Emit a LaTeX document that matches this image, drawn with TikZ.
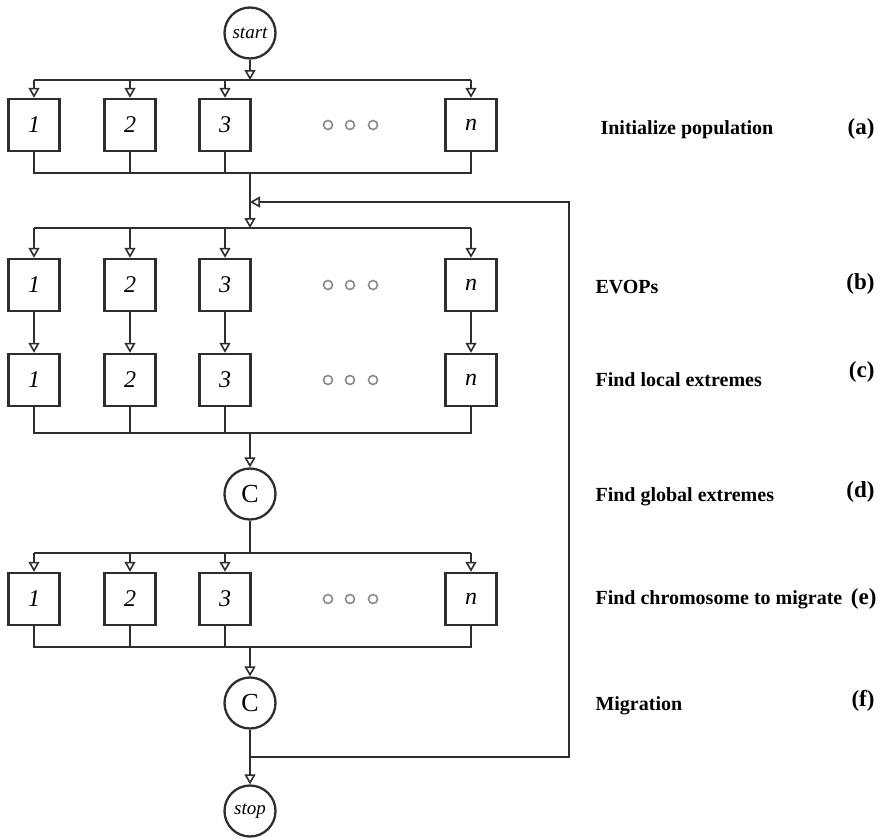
\documentclass[tikz,border=0pt]{standalone}
\usepackage{fontspec}
\setmainfont{Liberation Serif}
\usetikzlibrary{arrows.meta}
\definecolor{ink}{HTML}{2E2E2E}
\definecolor{dotgray}{HTML}{8A8A8A}
\begin{document}
\begin{tikzpicture}[x=1pt,y=-1pt,
  wire/.style={draw=ink, line width=2.3pt},
  arr/.style={wire, -{Triangle[open, length=10pt, width=11pt, line width=1.6pt]}},
  unit/.style={draw=ink, line width=2.4pt, minimum width=51pt, minimum height=52pt,
    inner sep=0pt, font=\fontsize{24}{24}\selectfont\itshape},
  term/.style={circle, draw=ink, line width=2.3pt, minimum size=51pt, inner sep=0pt,
    font=\fontsize{19}{19}\selectfont\itshape},
  comb/.style={circle, draw=ink, line width=2.3pt, minimum size=51pt, inner sep=0pt,
    font=\fontsize{26}{26}\selectfont},
  stage/.style={anchor=base west, font=\fontsize{20}{20}\selectfont\bfseries},
  tag/.style={anchor=base east, font=\fontsize{23}{23}\selectfont\bfseries},
  ell/.style={circle, draw=dotgray, line width=1.6pt, minimum size=9pt, inner sep=0pt}]
\useasboundingbox (0,0) rectangle (882,838);

% terminals and combiners
\node[term] (start) at (250,33) {start};
\node[comb] (comb1) at (250,494) {C};
\node[comb] (comb2) at (250,703) {C};
\node[term] (stop) at (250,811) {stop};

% parallel units of each stage
\foreach \r/\y in {a/125, b/285, c/380, e/599} {
  \foreach \k/\x in {1/34, 2/130, 3/225, n/471}
    \node[unit] (\r\k) at (\x,\y) {\k};
  \foreach \d/\x in {1/328, 2/350, 3/373}
    \node[ell] (\r dot\d) at (\x,\y) {};
}

% bus coordinates on the main trunk
\coordinate (topA) at (250,80);
\coordinate (botA) at (250,173);
\coordinate (loopIn) at (250,202);
\coordinate (topB) at (250,228);
\coordinate (botC) at (250,433);
\coordinate (topE) at (250,553);
\coordinate (botE) at (250,647);
\coordinate (join) at (250,757);
\coordinate (backR) at (569,757);
\coordinate (loopTop) at (569,202);

% stage (a): initialize population
\draw[arr] (start) -- (topA);
\draw[wire] (a1 |- topA) -- (an |- topA);
\foreach \k in {1,2,3,n} \draw[arr] (a\k |- topA) -- (a\k);
\draw[wire] (a1.south) |- (an |- botA) -- (an.south);
\foreach \k in {2,3} \draw[wire] (a\k.south) -- (a\k |- botA);
\draw[arr] (botA) -- (topB);

% stages (b) and (c): EVOPs and local extremes
\draw[wire] (b1 |- topB) -- (bn |- topB);
\foreach \k in {1,2,3,n} {
  \draw[arr] (b\k |- topB) -- (b\k);
  \draw[arr] (b\k) -- (c\k);
}
\draw[wire] (c1.south) |- (cn |- botC) -- (cn.south);
\foreach \k in {2,3} \draw[wire] (c\k.south) -- (c\k |- botC);

% stage (d): global extremes
\draw[arr] (botC) -- (comb1);
\draw[wire] (comb1) -- (topE);

% stage (e): chromosome to migrate
\draw[wire] (e1 |- topE) -- (en |- topE);
\foreach \k in {1,2,3,n} \draw[arr] (e\k |- topE) -- (e\k);
\draw[wire] (e1.south) |- (en |- botE) -- (en.south);
\foreach \k in {2,3} \draw[wire] (e\k.south) -- (e\k |- botE);

% stage (f): migration, loop back and stop
\draw[arr] (botE) -- (comb2);
\draw[arr] (comb2) -- (stop);
\draw[arr] (join) -- (backR) -- (loopTop) -- (loopIn);

% stage descriptions
\node[stage] (la) at (597,134) {Initialize population};
\node[stage] (lb) at (592,293) {EVOPs};
\node[stage] (lc) at (592,386) {Find local extremes};
\node[stage] (ld) at (592,501) {Find global extremes};
\node[stage] (le) at (592,604) {Find chromosome to migrate};
\node[tag] (ta) at (878,134) {(a)};
\node[tag] (tb) at (878,289) {(b)};
\node[tag] (tc) at (878,377) {(c)};
\node[tag] (td) at (878,497) {(d)};
\node[tag] (te) at (880,604) {(e)};
\node[stage] (lf) at (592,710) {Migration};
\node[tag] (tf) at (878,706) {(f)};
\end{tikzpicture}
\end{document}
